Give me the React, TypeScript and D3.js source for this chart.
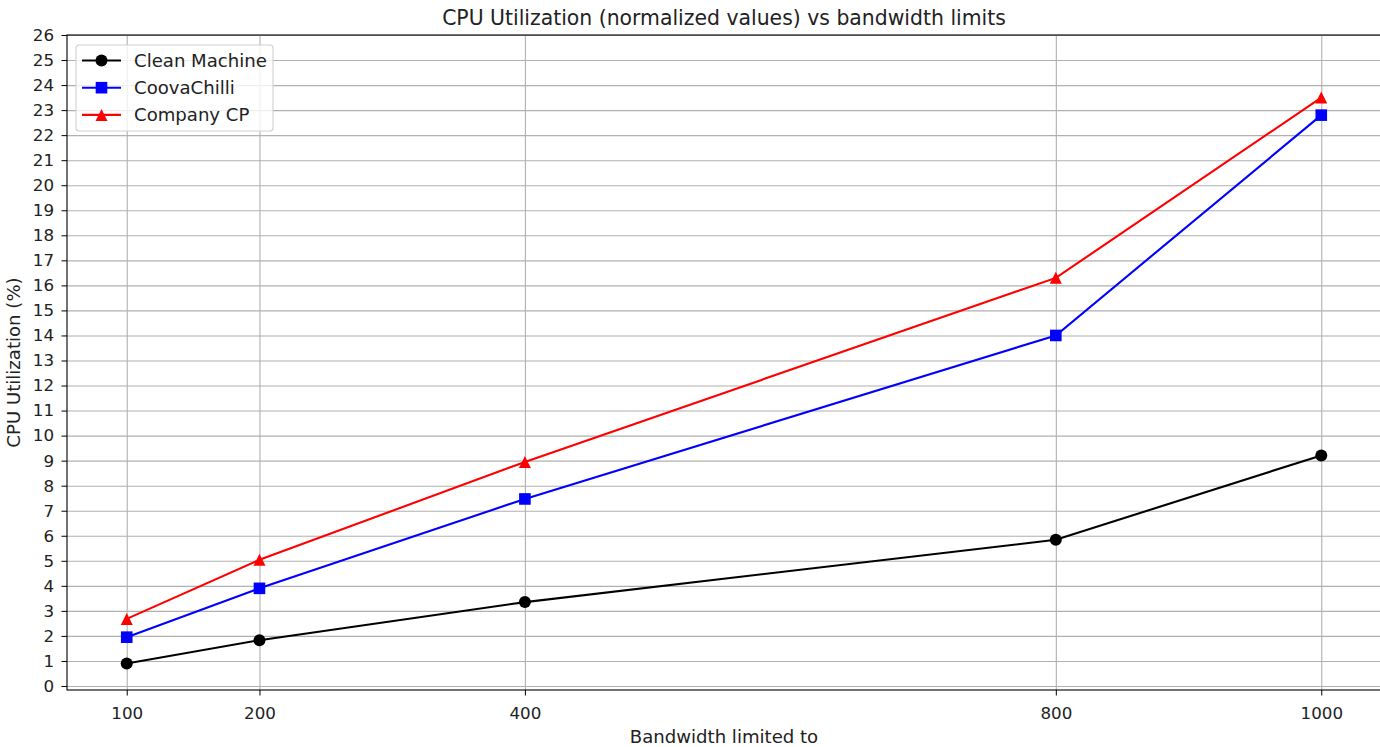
import * as d3 from "d3";
import { useEffect, useRef } from "react";

// bandwidth limits on the x axis
const bandwidth = [100, 200, 400, 800, 1000];

// CPU utilization per setup
const cleanMachine = [0.9, 1.83, 3.35, 5.84, 9.21];
const coovaChilli = [1.95, 3.9, 7.47, 14.0, 22.8];
const companyCP = [2.68, 5.04, 8.95, 16.3, 23.5];

const yTicks = d3.range(0, 27);

const seriesList = [
  { name: "Clean Machine", values: cleanMachine, color: "#000000", marker: "circle" },
  { name: "CoovaChilli", values: coovaChilli, color: "#0000ff", marker: "square" },
  { name: "Company CP", values: companyCP, color: "#ff0000", marker: "triangle" },
];

function App() {
  const ref = useRef<SVGSVGElement>(null);

  useEffect(() => {
    const width = 1380;
    const height = 747;
    // plot area
    const left = 67;
    const right = 1381;
    const top = 35;
    const bottom = 690;

    const svg = d3.select(ref.current);
    svg.selectAll("*").remove();
    svg.attr("width", width).attr("height", height).style("font-family", "DejaVu Sans");

    svg.append("rect").attr("width", width).attr("height", height).attr("fill", "#fff");

    const x = d3.scaleLinear().domain([55, 1045]).range([left, right]);
    const y = d3.scaleLinear().domain([-0.16, 26]).range([bottom, top]);

    // grid
    svg
      .append("g")
      .attr("transform", `translate(0,${bottom})`)
      .call(d3.axisBottom(x).tickValues(bandwidth).tickSize(-(bottom - top)).tickFormat(() => ""))
      .call((g) => g.select(".domain").remove())
      .selectAll("line")
      .attr("stroke", "#b0b0b0")
      .attr("stroke-width", 1.1);

    svg
      .append("g")
      .attr("transform", `translate(${left},0)`)
      .call(d3.axisLeft(y).tickValues(yTicks).tickSize(-(right - left)).tickFormat(() => ""))
      .call((g) => g.select(".domain").remove())
      .selectAll("line")
      .attr("stroke", "#b0b0b0")
      .attr("stroke-width", 1.1);

    // spines
    svg
      .append("rect")
      .attr("x", left)
      .attr("y", top)
      .attr("width", right - left)
      .attr("height", bottom - top)
      .attr("fill", "none")
      .attr("stroke", "#000")
      .attr("stroke-width", 1.1);

    // axes with ticks
    const xAxis = svg
      .append("g")
      .attr("transform", `translate(0,${bottom})`)
      .call(d3.axisBottom(x).tickValues(bandwidth).tickSize(5.5).tickPadding(12).tickFormat(d3.format("d")));
    xAxis.select(".domain").remove();
    xAxis.selectAll("text").attr("font-size", 16.7).attr("fill", "#222").attr("font-family", "DejaVu Sans");

    const yAxis = svg
      .append("g")
      .attr("transform", `translate(${left},0)`)
      .call(d3.axisLeft(y).tickValues(yTicks).tickSize(5.5).tickPadding(7.5).tickFormat(d3.format("d")));
    yAxis.select(".domain").remove();
    yAxis.selectAll("text").attr("font-size", 16.7).attr("fill", "#222").attr("font-family", "DejaVu Sans");

    // lines and markers
    const line = d3
      .line<number>()
      .x((d, i) => x(bandwidth[i]))
      .y((d) => y(d));

    const drawMarker = (g: any, kind: string, cx: number, cy: number, color: string) => {
      if (kind === "circle") {
        g.append("circle").attr("cx", cx).attr("cy", cy).attr("r", 6).attr("fill", color);
      } else if (kind === "square") {
        g.append("rect").attr("x", cx - 5.8).attr("y", cy - 5.8).attr("width", 11.6).attr("height", 11.6).attr("fill", color);
      } else {
        // matplotlib style "^": box-centred triangle
        const h = 6;
        g.append("path")
          .attr("d", `M${cx},${cy - h}L${cx + h},${cy + h}L${cx - h},${cy + h}Z`)
          .attr("fill", color);
      }
    };

    seriesList.forEach((s) => {
      svg
        .append("path")
        .datum(s.values)
        .attr("fill", "none")
        .attr("stroke", s.color)
        .attr("stroke-width", 2.1)
        .attr("d", line);
      const g = svg.append("g");
      s.values.forEach((v, i) => drawMarker(g, s.marker, x(bandwidth[i]), y(v), s.color));
    });

    // title and labels
    svg
      .append("text")
      .attr("x", (left + right) / 2)
      .attr("y", 25)
      .attr("text-anchor", "middle")
      .attr("font-size", 20.4)
      .attr("fill", "#222")
      .text("CPU Utilization (normalized values) vs bandwidth limits");

    svg
      .append("text")
      .attr("x", (left + right) / 2)
      .attr("y", 743)
      .attr("text-anchor", "middle")
      .attr("font-size", 18.1)
      .attr("fill", "#222")
      .text("Bandwidth limited to");

    svg
      .append("text")
      .attr("transform", `translate(20,${(top + bottom) / 2}) rotate(-90)`)
      .attr("text-anchor", "middle")
      .attr("font-size", 18.1)
      .attr("fill", "#222")
      .text("CPU Utilization (%)");

    // legend
    const legend = svg.append("g").attr("transform", "translate(76,45)");
    legend
      .append("rect")
      .attr("width", 197)
      .attr("height", 86)
      .attr("rx", 3)
      .attr("fill", "#fff")
      .attr("fill-opacity", 0.8)
      .attr("stroke", "#d0d0d0")
      .attr("stroke-width", 1.1);

    seriesList.forEach((s, i) => {
      const ly = 15.5 + i * 27.2;
      legend
        .append("line")
        .attr("x1", 6)
        .attr("x2", 45)
        .attr("y1", ly)
        .attr("y2", ly)
        .attr("stroke", s.color)
        .attr("stroke-width", 2.1);
      drawMarker(legend, s.marker, 25.5, ly, s.color);
      legend
        .append("text")
        .attr("x", 58)
        .attr("y", ly + 6.3)
        .attr("font-size", 18.1)
        .attr("fill", "#222")
        .text(s.name);
    });
  }, []);

  return <svg ref={ref} style={{ position: "absolute", left: 0, top: 0 }} />;
}

export default App;
